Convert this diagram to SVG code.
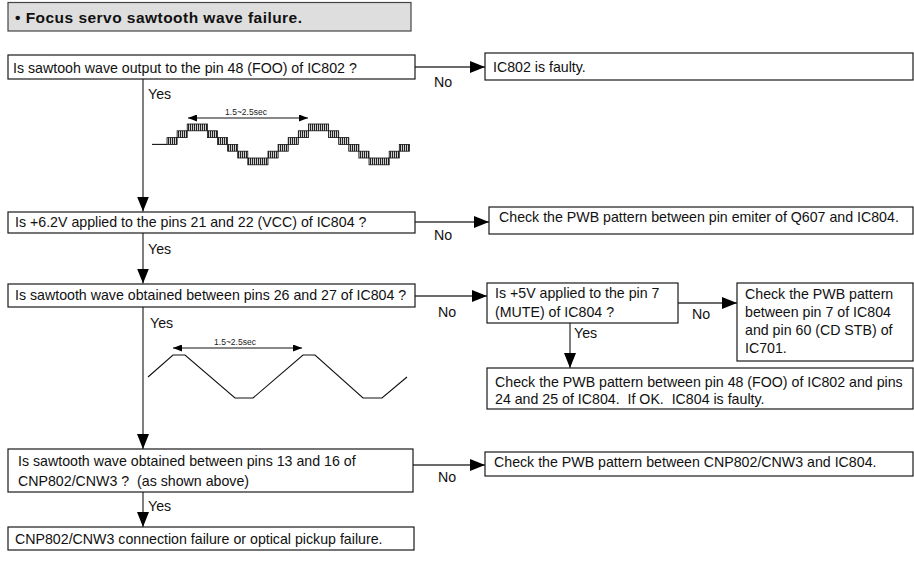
<svg xmlns="http://www.w3.org/2000/svg" width="914" height="563" viewBox="0 0 914 563">
  <style>
    .box { fill: #ffffff; stroke: #1a1a1a; stroke-width: 1.2; }
    .title-box { fill: #dedede; stroke: #444444; stroke-width: 1.2; }
    .t { font-family: "Liberation Sans", Arial, Helvetica, sans-serif; font-size: 14.2px; fill: #111111; white-space: pre; }
    .tb { font-family: "Liberation Sans", Arial, Helvetica, sans-serif; font-size: 15.5px; font-weight: bold; fill: #111111; }
    .small { font-family: "Liberation Sans", Arial, Helvetica, sans-serif; font-size: 8.5px; fill: #222222; text-anchor: middle; }
    .conn { fill: none; stroke: #3a3a3a; stroke-width: 1.3; }
    .wave { fill: none; stroke: #111111; stroke-width: 1.1; }
    .dim { fill: none; stroke: #111111; stroke-width: 1; }
    .step { fill: url(#hatch); stroke: #111111; stroke-width: 0.8; }
  </style>
  <defs>
    <marker id="arr" markerUnits="userSpaceOnUse" markerWidth="15" markerHeight="12" refX="15" refY="6" orient="auto">
      <path d="M0,0 L15,6 L0,12 Z" fill="#000000"/>
    </marker>
    <marker id="sarr" markerUnits="userSpaceOnUse" markerWidth="9" markerHeight="7" refX="9" refY="3.5" orient="auto-start-reverse">
      <path d="M0,0 L9,3.5 L0,7 Z" fill="#000000"/>
    </marker>
    <pattern id="hatch" patternUnits="userSpaceOnUse" width="2" height="8">
      <rect x="0" y="0" width="2" height="8" fill="#cfcfcf"/>
      <rect x="0" y="0" width="1" height="8" fill="#222222"/>
    </pattern>
  </defs>

  <!-- heading -->
  <g id="title">
    <rect class="title-box" x="8" y="2.5" width="403" height="28.5"/>
    <text class="tb" x="15" y="23" textLength="287" lengthAdjust="spacing">• Focus servo sawtooth wave failure.</text>
  </g>

  <!-- connectors -->
  <g id="connectors">
    <!-- main Yes trunk -->
    <line class="conn" x1="143" y1="79" x2="143" y2="211.5" marker-end="url(#arr)"/>
    <line class="conn" x1="143" y1="233" x2="143" y2="283.5" marker-end="url(#arr)"/>
    <line class="conn" x1="143" y1="307" x2="143" y2="449" marker-end="url(#arr)"/>
    <line class="conn" x1="143" y1="492" x2="143" y2="527" marker-end="url(#arr)"/>
    <!-- No branches -->
    <line class="conn" x1="415" y1="67" x2="485" y2="67" marker-end="url(#arr)"/>
    <line class="conn" x1="415" y1="222" x2="489" y2="222" marker-end="url(#arr)"/>
    <line class="conn" x1="415" y1="296" x2="487" y2="296" marker-end="url(#arr)"/>
    <line class="conn" x1="678" y1="303" x2="737" y2="303" marker-end="url(#arr)"/>
    <line class="conn" x1="570" y1="323" x2="570" y2="368" marker-end="url(#arr)"/>
    <line class="conn" x1="413" y1="465" x2="485" y2="465" marker-end="url(#arr)"/>
    <!-- branch labels -->
    <text class="t" x="148" y="99">Yes</text>
    <text class="t" x="148" y="254">Yes</text>
    <text class="t" x="150" y="328">Yes</text>
    <text class="t" x="148" y="511">Yes</text>
    <text class="t" x="574" y="338">Yes</text>
    <text class="t" x="434" y="87">No</text>
    <text class="t" x="434" y="240">No</text>
    <text class="t" x="438" y="317">No</text>
    <text class="t" x="438" y="482">No</text>
    <text class="t" x="692" y="319">No</text>
  </g>

  <!-- decision: IC802 output -->
  <g id="q-ic802">
    <rect class="box" x="8" y="55" width="407" height="24"/>
    <text class="t" x="13" y="73">Is sawtooh wave output to the pin 48 (FOO) of IC802 ?</text>
  </g>
  <g id="r-ic802-faulty">
    <rect class="box" x="485" y="53" width="428" height="27"/>
    <text class="t" x="493" y="71.5">IC802 is faulty.</text>
  </g>

  <!-- stepped sawtooth waveform at IC802 pin 48 -->
  <g id="wave-stepped">
    <line class="dim" x1="188" y1="118" x2="308" y2="118" marker-start="url(#sarr)" marker-end="url(#sarr)"/>
    <text class="small" x="246" y="115">1.5~2.5sec</text>
    <line class="wave" x1="152" y1="144.4" x2="167" y2="144.4"/>
    <rect class="step" x="167.0" y="137.6" width="10.1" height="6.8"/>
    <rect class="step" x="177.1" y="130.8" width="10.1" height="6.8"/>
    <rect class="step" x="187.2" y="124.0" width="20.2" height="6.8"/>
    <rect class="step" x="207.4" y="130.8" width="10.1" height="6.8"/>
    <rect class="step" x="217.5" y="137.6" width="10.1" height="6.8"/>
    <rect class="step" x="227.6" y="144.4" width="10.1" height="6.8"/>
    <rect class="step" x="237.7" y="151.2" width="10.1" height="6.8"/>
    <rect class="step" x="247.8" y="158.0" width="20.2" height="6.8"/>
    <rect class="step" x="268.0" y="151.2" width="10.1" height="6.8"/>
    <rect class="step" x="278.1" y="144.4" width="10.1" height="6.8"/>
    <rect class="step" x="288.2" y="137.6" width="10.1" height="6.8"/>
    <rect class="step" x="298.3" y="130.8" width="10.1" height="6.8"/>
    <rect class="step" x="308.4" y="124.0" width="20.2" height="6.8"/>
    <rect class="step" x="328.6" y="130.8" width="10.1" height="6.8"/>
    <rect class="step" x="338.7" y="137.6" width="10.1" height="6.8"/>
    <rect class="step" x="348.8" y="144.4" width="10.1" height="6.8"/>
    <rect class="step" x="358.9" y="151.2" width="10.1" height="6.8"/>
    <rect class="step" x="369.0" y="158.0" width="20.2" height="6.8"/>
    <rect class="step" x="389.2" y="151.2" width="10.1" height="6.8"/>
    <rect class="step" x="399.3" y="144.4" width="10.1" height="6.8"/>
  </g>

  <!-- decision: IC804 supply -->
  <g id="q-vcc">
    <rect class="box" x="8" y="212" width="407" height="21"/>
    <text class="t" x="15" y="227">Is +6.2V applied to the pins 21 and 22 (VCC) of IC804 ?</text>
  </g>
  <g id="r-q607">
    <rect class="box" x="489" y="207" width="424" height="27"/>
    <text class="t" x="499" y="222">Check the PWB pattern between pin emiter of Q607 and IC804.</text>
  </g>

  <!-- decision: IC804 pins 26/27 -->
  <g id="q-ic804">
    <rect class="box" x="8" y="284" width="407" height="23"/>
    <text class="t" x="15" y="300">Is sawtooth wave obtained between pins 26 and 27 of IC804 ?</text>
  </g>
  <g id="q-mute">
    <rect class="box" x="487" y="283" width="191" height="40"/>
    <text class="t" x="495" y="298">Is +5V applied to the pin 7</text>
    <text class="t" x="495" y="317">(MUTE) of IC804 ?</text>
  </g>
  <g id="r-cdstb">
    <rect class="box" x="737" y="283" width="176" height="78"/>
    <text class="t" x="745" y="298.5">Check the PWB pattern</text>
    <text class="t" x="745" y="317">between pin 7 of IC804</text>
    <text class="t" x="745" y="335">and pin 60 (CD STB) of</text>
    <text class="t" x="745" y="353">IC701.</text>
  </g>
  <g id="r-foo">
    <rect class="box" x="487" y="368" width="426" height="41"/>
    <text class="t" x="495" y="386.5">Check the PWB pattern between pin 48 (FOO) of IC802 and pins</text>
    <text class="t" x="495" y="403.5" xml:space="preserve">24 and 25 of IC804.  If OK.  IC804 is faulty.</text>
  </g>

  <!-- trapezoid waveform at IC804 pins 26/27 -->
  <g id="wave-trapezoid">
    <line class="dim" x1="173" y1="348" x2="302" y2="348" marker-start="url(#sarr)" marker-end="url(#sarr)"/>
    <text class="small" x="235" y="345">1.5~2.5sec</text>
    <polyline class="wave" points="148,377 173,355 185,355 235,398 253,398 303,355 315,355 363,398 382,398 407,377"/>
  </g>

  <!-- decision: connector CNP802/CNW3 -->
  <g id="q-cnp802">
    <rect class="box" x="8" y="449" width="405" height="43"/>
    <text class="t" x="18" y="466">Is sawtooth wave obtained between pins 13 and 16 of</text>
    <text class="t" x="18" y="486" xml:space="preserve">CNP802/CNW3 ?  (as shown above)</text>
  </g>
  <g id="r-cnp802">
    <rect class="box" x="485" y="452" width="428" height="24"/>
    <text class="t" x="494" y="467">Check the PWB pattern between CNP802/CNW3 and IC804.</text>
  </g>
  <g id="r-pickup">
    <rect class="box" x="8" y="527" width="406" height="23"/>
    <text class="t" x="15" y="544">CNP802/CNW3 connection failure or optical pickup failure.</text>
  </g>
</svg>
